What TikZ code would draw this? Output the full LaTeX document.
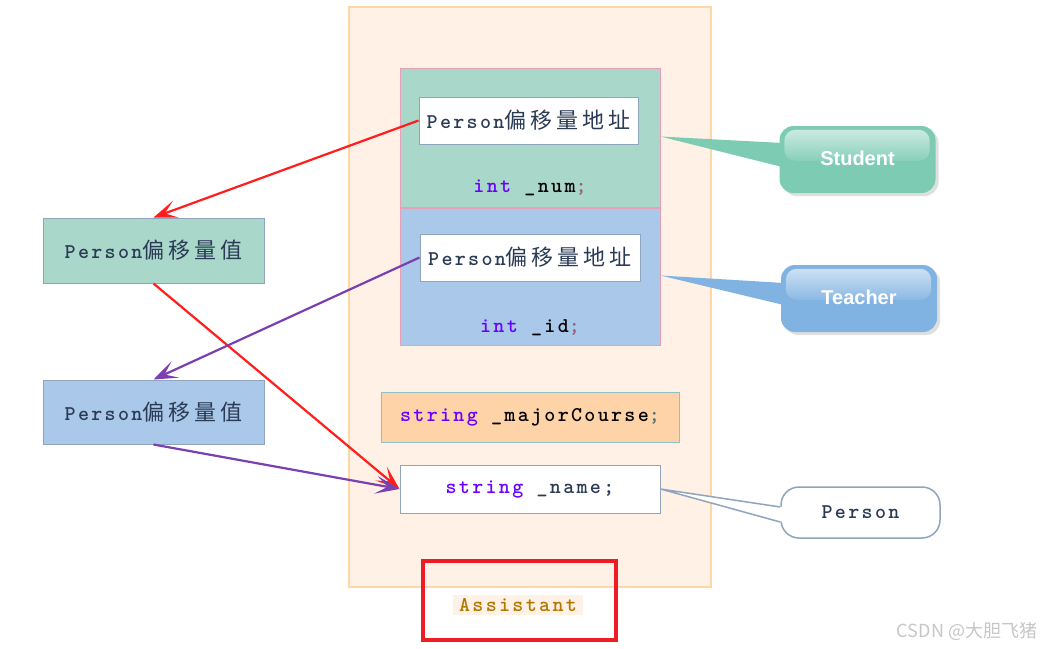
\documentclass[tikz,border=0pt]{standalone}
\usepackage{fontspec}
\usepackage{tikz}
\usetikzlibrary{arrows.meta,positioning,calc,shadows}
\newfontfamily\codefont{lmmonolt10-bold.otf}[LetterSpace=11]
\newfontfamily\cjk{Noto Sans CJK SC}[LetterSpace=18]
\newfontfamily\wmfont{Noto Sans CJK SC}
\newfontfamily\callfont{Liberation Sans}
\definecolor{asstfill}{HTML}{FFF1E5}
\definecolor{asstdraw}{HTML}{FFD6A6}
\definecolor{stufill}{HTML}{A9D8CA}
\definecolor{teafill}{HTML}{AAC8E9}
\definecolor{blockdraw}{HTML}{E8A0B8}
\definecolor{boxdraw}{HTML}{90A4BC}
\definecolor{majorfill}{HTML}{FFD3A8}
\definecolor{majordraw}{HTML}{90C0C8}
\definecolor{studcall}{HTML}{7ECBB4}
\definecolor{teachcall}{HTML}{80B3E2}
\definecolor{kw}{HTML}{6A00FF}
\definecolor{txtc}{HTML}{2B3A55}
\definecolor{semi}{HTML}{A06070}
\definecolor{redline}{HTML}{FF1E1E}
\definecolor{purpline}{HTML}{7A3FB0}
\definecolor{asstxt}{HTML}{B07800}
\definecolor{frame}{HTML}{EE1C25}
\tikzset{
  block/.style={rectangle, draw=blockdraw, line width=1pt, fill=#1, minimum width=260pt, inner sep=0pt},
  membox/.style 2 args={rectangle, draw=#2, line width=1pt, fill=#1, inner sep=0pt, text=txtc,
                 font=\codefont\fontsize{21}{24}\selectfont},
  code/.style={inner sep=0pt, text=txtc, font=\codefont\fontsize{21}{24}\selectfont},
  callout/.style={rectangle, rounded corners=14pt, fill=#1, minimum width=156pt, minimum height=67pt,
                  drop shadow={opacity=0.25, shadow xshift=3pt, shadow yshift=-3pt}},
  calltext/.style={text=white, font=\callfont\bfseries\fontsize{20}{24}\selectfont},
  gloss/.style={rounded corners=11pt, top color=white!60!#1, bottom color=#1!92!white},
  redarr/.style={-{Stealth[length=24pt, width=18pt, inset=12pt]}, line width=2.2pt, draw=redline},
  purarr/.style={-{Stealth[length=24pt, width=18pt, inset=12pt]}, line width=2.2pt, draw=purpline},
}
\newcommand{\cjkt}[1]{{\cjk\fontsize{22}{24}\selectfont #1}}
\begin{document}
\begin{tikzpicture}[x=1pt, y=-1pt]
  \useasboundingbox[fill=white] (0,0) rectangle (1051,648);
  % Assistant object
  \node[rectangle, draw=asstdraw, fill=asstfill, line width=1.2pt, minimum width=362pt,
        minimum height=580pt, inner sep=0pt] (asst) at (530,297) {};
  % Student part
  \node[block=stufill, minimum height=139pt] (sblk) at (530,137.5) {};
  \node[block=teafill, minimum height=137pt, below=0pt of sblk] (tblk) {};
  \node[membox={white}{boxdraw}, minimum width=219pt, minimum height=47pt] (saddr) at (528.5,120.5)
    {Person\cjkt{偏移量地址}};
  \node[code] (snum) at (530,188) {\textcolor{kw}{int} \textcolor{black}{\_num}\textcolor{semi}{;}};
  \node[membox={white}{boxdraw}, minimum width=220pt, minimum height=47pt] (taddr) at (530,257.5)
    {Person\cjkt{偏移量地址}};
  \node[code] (tid) at (530,328) {\textcolor{kw}{int} \textcolor{black}{\_id}\textcolor{semi}{;}};
  \node[membox={majorfill}{majordraw}, minimum width=298pt, minimum height=50pt] (major) at (530,417)
    {\textcolor{kw}{string} \textcolor{black}{\_majorCourse}\textcolor{majordraw!60!black}{;}};
  \node[membox={white}{boxdraw}, minimum width=260pt, minimum height=48pt] (name) at (530,489)
    {\textcolor{kw}{string} \_name;};
  % offset values
  \node[membox={stufill}{boxdraw}, minimum width=221pt, minimum height=65pt] (lgreen) at (153.5,250.5)
    {Person\cjkt{偏移量值}};
  \node[membox={teafill}{boxdraw}, minimum width=221pt, minimum height=64pt] (lblue) at (153.5,412)
    {Person\cjkt{偏移量值}};
  \draw[redarr] (saddr.west) -- (lgreen.north);
  \draw[redarr] (lgreen.south) -- (name.west);
  \draw[purarr] (taddr.west) -- (lblue.north);
  \draw[purarr] (lblue.south) -- (name.west);
  % callouts
  \node[callout=studcall] (stud) at (857.5,159.5) {};
  \fill[studcall] ($(sblk.north east)+(0,69)$) -- ($(stud.west)+(3,-16.5)$) -- ($(stud.west)+(3,7.5)$) -- cycle;
  \shade[gloss=studcall] ($(stud.north west)+(5,4)$) rectangle ($(stud.north east)+(-6,35)$);
  \node[calltext] (stext) at ($(stud.center)+(0,-1)$) {Student};
  \node[callout=teachcall] (teach) at (859,298.5) {};
  \fill[teachcall] ($(tblk.north east)+(0,68)$) -- ($(teach.west)+(3,-15.5)$) -- ($(teach.west)+(3,6.5)$) -- cycle;
  \shade[gloss=teachcall] ($(teach.north west)+(5,4)$) rectangle ($(teach.north east)+(-6,35)$);
  \node[calltext] (ttext) at ($(teach.center)+(0,-1)$) {Teacher};
  \node[rectangle, rounded corners=18pt, draw=boxdraw, line width=1.5pt, fill=white, minimum width=159pt,
        minimum height=51pt, text=txtc, font=\codefont\fontsize{21}{24}\selectfont] (pcall) at (860.5,512.5) {Person};
  \fill[white] (name.east) -- ($(pcall.west)+(3,-5.5)$) -- ($(pcall.west)+(3,9.5)$) -- cycle;
  \draw[boxdraw, line width=1.5pt] ($(pcall.west)+(0,-5.5)$) -- (name.east) -- ($(pcall.west)+(0,9.5)$);
  % label of the whole object
  \node[rectangle, draw=frame, line width=4pt, minimum width=193pt, minimum height=79pt] (frm) at (519.5,600.5) {};
  \node[fill=asstfill, inner xsep=6pt, inner ysep=3pt, text=asstxt,
        font=\codefont\fontsize{21}{24}\selectfont] (alabel) at (518,605) {Assistant};
  \node[text=black!22, font=\wmfont\fontsize{18}{20}\selectfont] (wm) at (967,631) {CSDN @大胆飞猪};
\end{tikzpicture}
\end{document}
